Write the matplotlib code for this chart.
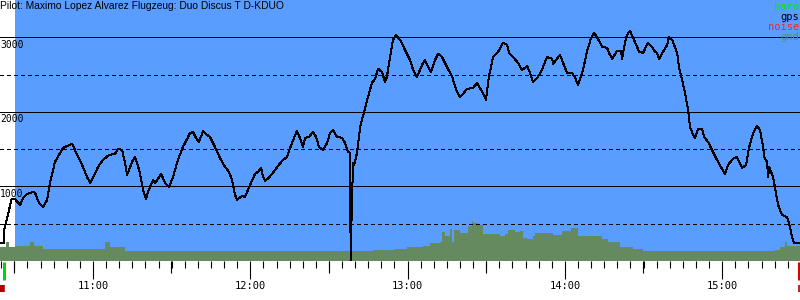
"""Barogram: GPS altitude and ground elevation over one flight."""

import matplotlib

matplotlib.use("Agg")
import matplotlib.pyplot as plt
import matplotlib.transforms as mtransforms
import numpy as np

TITLE = "Pilot: Maximo Lopez Alvarez Flugzeug: Duo Discus T D-KDUO"

# times in minutes after midnight, altitudes in metres
gps_t = [
    624.5, 626.1, 626.1, 629.0, 630.2, 632.2, 633.3, 634.8, 637.1, 637.9, 639.4, 640.9,
    642.5, 643.6, 645.5, 647.0, 648.6, 650.1, 652.0, 652.8, 654.3, 656.2, 657.7, 658.9,
    660.0, 661.9, 663.8, 666.1, 668.4, 669.5, 671.1, 672.2, 673.0, 674.9, 676.0, 676.8,
    677.9, 679.1, 680.2, 681.0, 682.9, 683.7, 686.0, 687.5, 689.0, 690.5, 692.4, 694.3,
    695.9, 697.0, 698.1, 699.3, 700.4, 702.0, 703.5, 704.6, 706.5, 708.4, 710.4, 711.9,
    713.0, 714.2, 714.9, 716.8, 718.0, 719.9, 721.8, 722.9, 724.1, 724.9, 725.6, 727.1,
    729.4, 732.1, 734.0, 735.9, 737.8, 738.9, 740.1, 740.9, 742.4, 743.9, 745.1, 746.2,
    747.7, 749.3, 750.4, 751.5, 753.1, 755.0, 756.1, 757.3, 758.0, 758.3, 758.7, 759.2,
    759.6, 760.7, 761.9, 763.4, 764.9, 766.4, 767.6, 768.7, 770.2, 771.4, 772.1, 773.3,
    774.4, 775.6, 777.1, 779.0, 780.9, 782.1, 783.6, 785.5, 786.6, 787.4, 788.9, 790.5,
    791.6, 793.1, 795.0, 797.0, 798.8, 800.0, 801.1, 802.7, 805.0, 806.5, 808.4, 809.9,
    811.0, 812.6, 814.5, 816.4, 817.9, 818.7, 820.2, 822.1, 823.6, 824.8, 825.6, 826.7,
    827.8, 829.4, 830.9, 833.2, 835.1, 835.5, 838.1, 839.3, 840.8, 842.7, 843.9, 845.0,
    846.9, 848.4, 850.0, 851.1, 852.6, 854.2, 856.1, 856.8, 858.0, 859.9, 861.4, 861.8,
    862.9, 863.7, 864.8, 866.7, 868.3, 869.8, 871.7, 873.2, 874.4, 875.1, 875.9, 877.4,
    879.0, 879.7, 880.9, 882.8, 883.5, 884.7, 885.8, 887.0, 887.7, 888.9, 889.6, 890.8,
    892.3, 893.1, 894.6, 896.1, 897.6, 899.5, 901.1, 902.2, 904.1, 905.6, 906.4, 907.6,
    909.1, 910.2, 911.8, 913.3, 914.4, 915.6, 916.0, 917.1, 917.5, 917.9, 919.4, 920.5,
    921.3, 922.8, 924.7, 925.5, 926.6, 927.4, 929.7,
]
gps_alt = [
    245, 245, 416, 832, 832, 752, 845, 899, 926, 913, 778, 725,
    819, 1047, 1329, 1423, 1516, 1543, 1570, 1516, 1396, 1261, 1127, 1047,
    1114, 1261, 1355, 1423, 1436, 1503, 1490, 1315, 1154, 1329, 1396, 1315,
    1181, 953, 832, 926, 1087, 1047, 1168, 1047, 993, 1127, 1355, 1530,
    1637, 1718, 1731, 1651, 1597, 1745, 1691, 1664, 1530, 1382, 1261, 1194,
    1087, 886, 819, 872, 859, 1020, 1168, 1194, 1248, 1127, 1074, 1114,
    1221, 1342, 1396, 1584, 1745, 1651, 1530, 1651, 1664, 1731, 1664, 1530,
    1490, 1584, 1718, 1758, 1664, 1651, 1584, 1463, 1449, 0, 711, 1315,
    1288, 1449, 1798, 2000, 2201, 2389, 2442, 2577, 2536, 2402, 2469, 2738,
    2966, 3033, 2966, 2832, 2697, 2563, 2469, 2630, 2697, 2630, 2536, 2697,
    2778, 2738, 2603, 2469, 2268, 2201, 2241, 2308, 2322, 2389, 2268, 2161,
    2469, 2738, 2805, 2926, 2899, 2791, 2738, 2657, 2563, 2590, 2617, 2523,
    2402, 2456, 2536, 2738, 2711, 2644, 2765, 2657, 2523, 2523, 2456, 2362,
    2563, 2805, 2993, 3060, 2979, 2872, 2858, 2791, 2711, 2818, 2818, 2711,
    2926, 3033, 3087, 2939, 2805, 2791, 2926, 2872, 2805, 2791, 2711, 2805,
    2899, 3006, 2966, 2791, 2603, 2429, 2255, 2026, 1798, 1691, 1651, 1771,
    1771, 1664, 1597, 1490, 1382, 1261, 1168, 1288, 1369, 1396, 1329, 1248,
    1288, 1516, 1718, 1812, 1758, 1530, 1396, 1329, 1127, 1261, 1127, 913,
    752, 617, 590, 510, 322, 242, 242,
]

gnd_t = [
    624.5, 626.8, 628.0, 630.2, 636.0, 637.5, 640.9, 651.2, 664.6, 666.5, 672.2, 766.8,
    775.2, 779.8, 785.9, 788.5, 792.4, 793.1, 794.3, 796.2, 797.0, 797.7, 800.0, 803.0,
    804.6, 805.0, 806.9, 808.8, 815.2, 817.2, 818.3, 821.0, 822.9, 824.0, 825.5, 827.8,
    828.6, 835.1, 835.5, 838.9, 842.3, 845.0, 851.5, 854.2, 856.4, 861.0, 866.0, 869.8,
    874.4, 911.7, 920.1, 922.0, 923.9, 924.7, 929.7,
]
gnd_alt = [
    192, 255, 192, 200, 260, 195, 161, 157, 259, 192, 134, 147,
    157, 190, 195, 247, 250, 395, 340, 430, 255, 420, 370, 470,
    540, 505, 480, 365, 340, 365, 410, 385, 400, 310, 300, 330,
    380, 380, 350, 400, 440, 330, 330, 300, 260, 190, 155, 140,
    134, 138, 147, 192, 259, 201, 184,
]

t_start, t_end = 624.53, 929.67  # plotted time window
t_blue = 630.25                  # flight window starts (blue background)
t_takeoff, t_landing = 626.0, 929.3
grid_solid = [1000, 2000, 3000]
grid_dashed = [500, 1500, 2500]
hours = [660, 720, 780, 840, 900]
hour_labels = ["11:00", "12:00", "13:00", "14:00", "15:00"]
legend_items = [("baro", "#00ee00"), ("gps", "black"), ("noise", "#ff2020"), ("gnd", "#6a8a5a")]

BLUE = "#589dff"
GND = "#658a60"
MONO = "DejaVu Sans Mono"
PX = 0.72  # one pixel in points at 100 dpi

fig = plt.figure(figsize=(8, 3), dpi=100)
ax = fig.add_axes([0, 0.13, 1, 0.87])
ax.set_xlim(t_start, t_end)
ax.set_ylim(0, 3500)
for s in ax.spines.values():
    s.set_visible(False)

ax.axvspan(t_blue, t_end, color=BLUE, lw=0, zorder=0)
ax.fill_between(gnd_t, 0, gnd_alt, step="post", color=GND, lw=0, zorder=1)
for v in grid_solid:
    ax.axhline(v, color="black", lw=PX, zorder=2, antialiased=False)
for v in grid_dashed:
    ax.axhline(v, color="black", lw=PX, ls=(0, (4, 3)), zorder=2, antialiased=False)
ax.plot(gps_t, gps_alt, color="black", lw=PX, zorder=3, antialiased=False)

# altitude labels just under the solid lines
ytrans = mtransforms.blended_transform_factory(ax.transAxes, ax.transData)
for v in grid_solid:
    ax.text(0.0, v - 30, str(v), transform=ytrans, ha="left", va="top",
            fontsize=7, family=MONO, zorder=4)

ax.text(0.0, 0.997, TITLE, transform=ax.transAxes, ha="left", va="top",
        fontsize=7.4, family="Liberation Sans", zorder=4)
for i, (name, col) in enumerate(legend_items):
    ax.text(0.999, 0.992 - i * 0.0385, name, transform=ax.transAxes, ha="right",
            va="top", fontsize=7.5, family=MONO, color=col, zorder=4)

# time axis: 5-min minor, 30-min medium, hour major
ax.set_yticks([])
ax.set_xticks(hours)
ax.set_xticklabels(hour_labels, family=MONO, fontsize=7.5)
ax.set_xticks(np.arange(625, 930, 5), minor=True)
ax.tick_params(axis="x", which="major", length=13, width=0.8, pad=1.5)
ax.tick_params(axis="x", which="minor", length=5, width=0.8)
ax2 = ax.twiny()
ax2.set_xlim(t_start, t_end)
ax2.xaxis.set_ticks_position("bottom")
ax2.set_xticks([630, 690, 750, 810, 870, 930])
ax2.set_xticklabels([])
ax2.tick_params(axis="x", length=8.6, width=0.8)
for s in ax2.spines.values():
    s.set_visible(False)

# takeoff / landing markers under the axis
xtrans = mtransforms.blended_transform_factory(ax.transData, ax.transAxes)
ax.plot([t_takeoff, t_takeoff], [-0.004, -0.072], transform=xtrans, color="#11cc11",
        lw=2.2, solid_capstyle="butt", clip_on=False)
ax.plot([t_start + 0.9, t_start + 0.9], [-0.093, -0.12], transform=xtrans, color="#aa0000",
        lw=4.0, solid_capstyle="butt", clip_on=False)
ax.plot([t_landing, t_landing], [-0.004, -0.072], transform=xtrans, color="#dd0000",
        lw=2.2, solid_capstyle="butt", clip_on=False)
ax.plot([t_end - 0.3, t_end - 0.3], [-0.093, -0.12], transform=xtrans, color="#aa0000",
        lw=1.2, solid_capstyle="butt", clip_on=False)

fig.savefig("out.png", dpi=100)
